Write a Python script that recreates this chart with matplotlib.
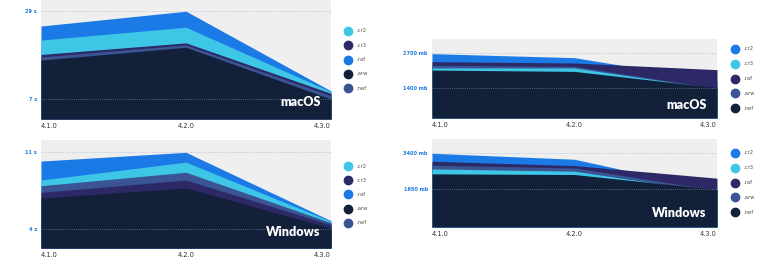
import numpy as np
import matplotlib.pyplot as plt

# --- data ---
versions = ["4.1.0", "4.2.0", "4.3.0"]

# render time (s), left column
mac_time = {
    ".raf": [25.3, 29.0, 9.1],
    ".cr2": [21.8, 25.0, 8.9],
    ".cr3": [18.2, 21.1, 8.5],
    ".nef": [17.6, 20.6, 7.9],
    ".arw": [16.8, 20.0, 7.1],
}
win_time = {
    ".raf": [10.2, 11.0, 4.73],
    ".cr2": [8.46, 10.1, 4.67],
    ".nef": [7.94, 9.17, 4.55],
    ".cr3": [7.33, 8.46, 4.37],
    ".arw": [6.81, 7.73, 4.06],
}
# memory (mb), right column
mac_mem = {
    ".cr2": [2675, 2525, 1650],
    ".raf": [2375, 2325, 2075],
    ".arw": [2237, 2200, 1370],
    ".cr3": [2140, 2140, 1350],
    ".nef": [2060, 2010, 1400],
}
win_mem = {
    ".cr2": [3400, 3111, 1600],
    ".raf": [3015, 2806, 2196],
    ".arw": [2822, 2694, 1600],
    ".cr3": [2646, 2533, 1520],
    ".nef": [2405, 2373, 1650],
}

time_ticks_mac = [7, 29]
time_ticks_win = [4, 11]
mem_ticks_mac = [1400, 2700]
mem_ticks_win = [1650, 3400]

BLUE = "#1b7ae6"
CYAN = "#3ec6e6"
PURPLE = "#2c2966"
SLATE = "#3a5494"
NAVY = "#13203a"

left_colors = {".cr2": CYAN, ".cr3": PURPLE, ".raf": BLUE, ".arw": NAVY, ".nef": SLATE}
right_colors = {".cr2": BLUE, ".cr3": CYAN, ".raf": PURPLE, ".arw": SLATE, ".nef": NAVY}
legend_order = [".cr2", ".cr3", ".raf", ".arw", ".nef"]

W, H = 770, 274
fig = plt.figure(figsize=(W / 100, H / 100), dpi=100)


def px_axes(x0, y0, x1, y1):
    return fig.add_axes([x0 / W, 1 - y1 / H, (x1 - x0) / W, (y1 - y0) / H])


def panel(ax, series, colors, ticks, unit, ylim, label, leg_x, leg_y, step):
    x = np.arange(len(versions))
    ax.set_facecolor("#efefef")
    # largest series go behind
    for name in sorted(series, key=lambda k: -sum(series[k])):
        ax.fill_between(x, series[name], ylim[0], color=colors[name], lw=0, zorder=2)
    for t in ticks:
        ax.axhline(t, color="#8fa3c4", lw=0.6, ls=(0, (1, 1.6)), alpha=0.7, zorder=3)
    ax.set_xlim(0, len(versions) - 1)
    ax.set_ylim(*ylim)
    for s in ax.spines.values():
        s.set_visible(False)
    ax.set_yticks(ticks)
    ax.set_yticklabels([f"{t} {unit}" for t in ticks], fontsize=3.6,
                       color=BLUE, fontweight="bold")
    ax.set_xticks(x)
    ax.set_xticklabels(versions, fontsize=4.8, color="#333")
    labs = ax.get_xticklabels()
    labs[0].set_ha("left")
    labs[-1].set_ha("right")
    ax.tick_params(length=0, pad=3)
    ax.text(0.963, 0.09, label, transform=ax.transAxes, ha="right", va="bottom",
            color="white", fontsize=9, fontweight="heavy", family="Lato", zorder=5)
    for i, name in enumerate(legend_order):
        yy = 1 - (leg_y + i * step) / H
        fig.add_artist(plt.Line2D([leg_x / W], [yy], marker="o", ms=6,
                                  color=colors[name], lw=0))
        fig.text((leg_x + 8) / W, yy, name, fontsize=3.8, color="#555", va="center")


axA = px_axes(41, 0, 331, 119)
panel(axA, mac_time, left_colors, time_ticks_mac, "s", (2.1, 31.8), "macOS", 348, 31, 14.3)

axC = px_axes(41, 140, 331, 248)
panel(axC, win_time, left_colors, time_ticks_win, "s", (2.23, 12.13), "Windows", 348, 166, 14.2)

axB = px_axes(432, 39, 717, 118)
panel(axB, mac_mem, right_colors, mem_ticks_mac, "mb", (262, 3225), "macOS", 735, 49, 14.8)

axD = px_axes(432, 139, 717, 227)
panel(axD, win_mem, right_colors, mem_ticks_win, "mb", (-165, 4091), "Windows", 735, 153, 14.8)

fig.savefig("out.png", dpi=100, facecolor="white")
